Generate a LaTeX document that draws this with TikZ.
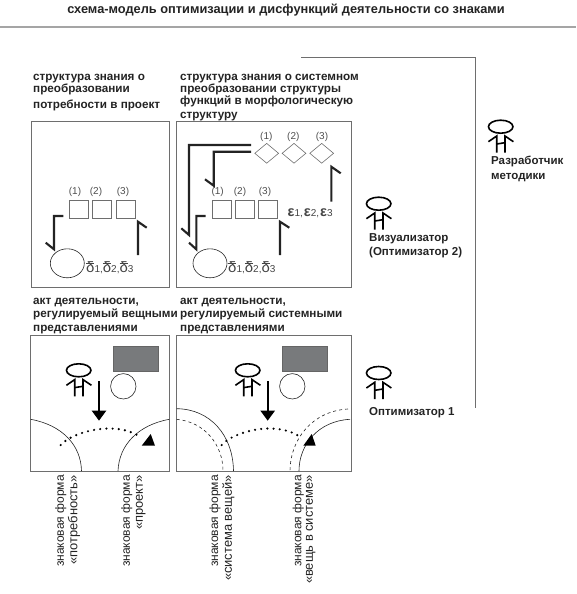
\documentclass[tikz,border=0pt]{standalone}
\usepackage{fontspec}
\setmainfont{Liberation Sans}
\usepackage{xcolor}
\usepackage{tikz}
\usetikzlibrary{positioning, arrows.meta, shapes.geometric, calc}
\definecolor{inkdark}{RGB}{35, 35, 35}
\definecolor{framegray}{RGB}{110, 110, 110}
\definecolor{rulegray}{RGB}{165, 165, 165}
\definecolor{screengray}{RGB}{120, 122, 124}
\newcommand{\dbar}[1]{\rlap{\rule[9pt]{8pt}{.6pt}}{\fontsize{15}{15}\selectfont δ}{\fontsize{10}{10}\selectfont #1}}
\newcommand{\ebar}[1]{{\fontsize{14.5}{15}\selectfont\bfseries ε}{\fontsize{10}{10}\selectfont #1}}
\tikzset{
  headtext/.style={anchor=north west, inner sep=0pt, align=left, text=inkdark, font=\bfseries\fontsize{11.7}{10}\selectfont},
  roletext/.style={anchor=north west, inner sep=0pt, align=left, text=inkdark, font=\bfseries\fontsize{11.5}{14.4}\selectfont},
  formtext/.style={rotate=90, anchor=east, inner sep=0pt, text=inkdark, font=\fontsize{12}{10}\selectfont},
  formtwo/.style={formtext, font=\fontsize{12.9}{10}\selectfont},
  numtext/.style={inner sep=0pt, text=inkdark!80, font=\fontsize{10}{10}\selectfont},
  symtext/.style={inner sep=0pt, text=inkdark!85},
  panel/.style={draw=framegray, line width=1.1pt, anchor=north west, inner sep=0pt},
  cell/.style={draw=framegray, line width=1pt, minimum width=19pt, minimum height=18pt, inner sep=0pt},
  rhomb/.style={diamond, draw=framegray, line width=.6pt, minimum width=24pt, minimum height=20pt, inner sep=0pt},
  oval/.style={ellipse, draw=inkdark, line width=.6pt, minimum width=34pt, minimum height=29pt, inner sep=0pt},
  bentline/.style={draw=inkdark, line width=2.1pt},
  thinarc/.style={draw=inkdark, line width=.6pt},
  dotarc/.style={draw=black, line width=2.4pt, line cap=round, dash pattern=on 0pt off 6.2pt},
  person/.pic={
    \node[ellipse, draw=black, line width=1.6pt, minimum width=24.5pt, minimum height=13pt, inner sep=0pt] (-head) at (0,0) {};
    \draw[black, line width=1.6pt] (-12.3,15) -- (-4,9.3) -- (-4,26);
    \draw[black, line width=1.6pt] (12.7,15) -- (4.3,9.3) -- (4.3,26);
    \draw[black, line width=1.6pt] (-4,17.3) -- (4.3,16);
  }
}
\begin{document}
\begin{tikzpicture}[x=1pt, y=-1pt]
  \useasboundingbox (0,0) rectangle (576,594);
  % title and frame
  \node[inner sep=0pt, text=inkdark, font=\bfseries\fontsize{12.8}{14}\selectfont] (title) at (286,10.5)
    {схема-модель оптимизации и дисфункций деятельности со знаками};
  \coordinate (ruleL) at (0,26.7);
  \coordinate (ruleR) at (576,26.7);
  \draw[rulegray, line width=2pt] (ruleL) -- (ruleR);
  \coordinate (frameA) at (301,57.7);
  \coordinate (frameB) at (475.7,408);
  \draw[framegray, line width=1.1pt] (frameA) -| (frameB);

  % headings
  \node[headtext] (headA) at (33,74) {структура знания о\\преобразовании\\[4pt]потребности в проект};
  \node[headtext] (headB) at (180,74) {структура знания о системном\\преобразовании структуры\\функций в морфологическую\\[4pt]структуру};
  \node[headtext] (headC) at (33,298.5) {акт деятельности,\\регулируемый вещными\\[4pt]представлениями};
  \node[headtext] (headD) at (180,298.5) {акт деятельности,\\регулируемый системными\\[4pt]представлениями};

  % upper panels
  \node[panel, minimum width=138.5pt, minimum height=166pt] (panelA) at (30.7,121) {};
  \node[panel, minimum width=175pt, minimum height=166pt] (panelB) at (176.3,121) {};

  \foreach \nm/\cx/\lx/\num in {a1/79/75/1, a2/102.2/96/2, a3/125.7/123/3, b1/221.7/217.7/1, b2/244.5/240/2, b3/268.3/265/3} {
    \node[cell] (cell\nm) at (\cx,209.8) {};
    \node[numtext] (num\nm) at (\lx,191.7) {(\num)};
  }
  \foreach \nm/\cx/\lx/\num in {1/266.7/266.3/1, 2/294/293.3/2, 3/321.7/322/3} {
    \node[rhomb] (rhomb\nm) at (\cx,153.3) {};
    \node[numtext] (numr\nm) at (\lx,136.7) {(\num)};
  }
  \node[oval] (ovalA) at (67.3,263.3) {};
  \node[oval] (ovalB) at (210,263.3) {};
  \node[symtext, anchor=west] (deltaA) at (86,268) {\dbar{1,}\dbar{2,}\dbar{3}};
  \node[symtext, anchor=west] (deltaB) at (228,268) {\dbar{1,}\dbar{2,}\dbar{3}};
  \node[symtext, anchor=west] (epsB) at (287.5,213) {\ebar{1,}\kern1pt\ebar{2,}\kern1pt\ebar{3}};

  % bent arrows, panel A
  \coordinate (bendA) at (63.3,216);
  \coordinate (bendAe) at (54,249.3);
  \draw[bentline] (bendA) -| (bendAe) -- ++(-8.3,-6.6);
  \coordinate (riseA) at (138,255);
  \coordinate (riseAe) at (138,221.7);
  \draw[bentline] (riseA) -- (riseAe) -- ++(8.7,6);

  % bent arrows, panel B
  \coordinate (longB) at (251,145);
  \coordinate (longBe) at (189,235);
  \draw[bentline] (longB) -| (longBe) -- ++(-7.7,-6.7);
  \coordinate (midB) at (251,151.7);
  \coordinate (midBe) at (213.7,185.7);
  \draw[bentline] (midB) -| (midBe) -- ++(-8.7,-6.4);
  \coordinate (lowB) at (205.7,216);
  \coordinate (lowBe) at (196.3,249.3);
  \draw[bentline] (lowB) -| (lowBe) -- ++(-7.3,-6.6);
  \coordinate (riseB) at (280,255);
  \coordinate (riseBe) at (280,221.7);
  \draw[bentline] (riseB) -- (riseBe) -- ++(9.3,6);
  \coordinate (riseC) at (331.3,201.7);
  \coordinate (riseCe) at (331.3,166.7);
  \draw[bentline] (riseC) -- (riseCe) -- ++(9.4,6.6);

  % lower panels
  \node[panel, minimum width=139pt, minimum height=136.3pt] (panelC) at (30.3,334.7) {};
  \node[panel, minimum width=174.7pt, minimum height=136.3pt] (panelD) at (176.3,334.7) {};
  \foreach \nm/\sx/\cx/\ax in {C/135.7/123.3/99, D/304.5/292.3/267.7} {
    \node[fill=screengray, draw=inkdark!70, line width=.4pt, minimum width=45.3pt, minimum height=24.7pt, inner sep=0pt] (screen\nm) at (\sx,358.4) {};
    \node[circle, draw=inkdark, line width=.6pt, minimum size=25.4pt, inner sep=0pt] (disc\nm) at (\cx,386.3) {};
    \coordinate (down\nm) at (\ax,381);
    \coordinate (downe\nm) at (\ax,420.7);
    \draw[-{Triangle[length=10pt, width=14pt]}, draw=black, line width=2.2pt] (down\nm) -- (downe\nm);
  }

  % arcs
  \draw[thinarc] (30.7,419.3) .. controls (62,425) and (81,445) .. (81.5,471);
  \draw[thinarc] (169.3,419.3) .. controls (138,425) and (119,445) .. (118,471);
  \draw[thinarc] (176.7,408.7) .. controls (210,409) and (233,435) .. (233.5,471);
  \draw[thinarc, dashed] (176.7,419.3) .. controls (205,422) and (223,445) .. (223,471);
  \draw[thinarc] (350,419.3) .. controls (318,421) and (299,445) .. (299,471);
  \draw[thinarc, dashed] (348,409) .. controls (312,411) and (290,440) .. (290,471);
  \draw[dotarc] (60.7,445) .. controls (72,432) and (115,420) .. (140,436.7);
  \draw[dotarc] (221.7,445) .. controls (233,432) and (275,420) .. (300,436.7);
  \fill[black] (141.7,445.7) -- (155,445.7) -- (150.7,434) -- cycle;
  \fill[black] (303.3,445.7) -- (315.7,445.7) -- (311.7,434) -- cycle;

  % people
  \pic (actorC) at (78.7,370.3) {person};
  \pic (actorD) at (247.7,370.3) {person};
  \pic (actorOne) at (378.7,373) {person};
  \pic (actorTwo) at (378.7,203.7) {person};
  \pic (actorDev) at (500.7,126.7) {person};
  \node[roletext] (roleDev) at (491,156) {Разработчик\\методики};
  \node[roletext] (roleTwo) at (369,233.3) {Визуализатор\\(Оптимизатор 2)};
  \node[roletext] (roleOne) at (369,407) {Оптимизатор 1};

  % sign forms
  \node[formtext] (formA) at (60.7,475) {знаковая форма};
  \node[formtwo] (formAb) at (74,475) {«потребность»};
  \node[formtext] (formB) at (126.7,475) {знаковая форма};
  \node[formtwo] (formBb) at (140.7,475) {«проект»};
  \node[formtext] (formC) at (215,475) {знаковая форма};
  \node[formtwo] (formCb) at (228.3,475) {«система вещей»};
  \node[formtext] (formD) at (298.3,475) {знаковая форма};
  \node[formtwo] (formDb) at (310.7,475) {«вещь в системе»};
\end{tikzpicture}
\end{document}
